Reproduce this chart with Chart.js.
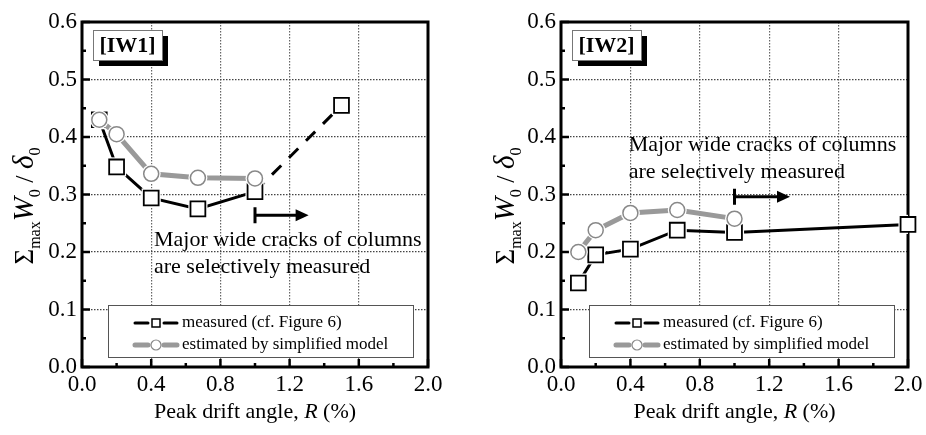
<!DOCTYPE html>
<html>
<head>
<meta charset="utf-8">
<script src="https://cdn.jsdelivr.net/npm/chart.js@4/dist/chart.umd.min.js"></script>
<style>
  body { margin: 0; background: #fff; }
  .wrap { position: absolute; top: 0; width: 463px; height: 435px; }
</style>
</head>
<body>
<div class="wrap" style="left:0"><canvas id="iw1" width="463" height="435"></canvas></div>
<div class="wrap" style="left:463px"><canvas id="iw2" width="463" height="435"></canvas></div>
<script>
// peak drift angle R (%) at each cycle
const R_IW1 = [0.1, 0.2, 0.4, 0.67, 1.0, 1.5];
const R_IW2 = [0.1, 0.2, 0.4, 0.67, 1.0, 2.0];
const R_EST = [0.1, 0.2, 0.4, 0.67, 1.0];

// sum max W0 / delta0
const measuredIW1 = [0.43, 0.348, 0.294, 0.275, 0.305, 0.455];
const estimatedIW1 = [0.43, 0.405, 0.336, 0.329, 0.328];
const measuredIW2 = [0.146, 0.195, 0.205, 0.238, 0.234, 0.248];
const estimatedIW2 = [0.200, 0.238, 0.268, 0.273, 0.258];

const legendLabels = ['measured (cf. Figure 6)', 'estimated by simplified model'];
const noteLines = ['Major wide cracks of columns', 'are selectively measured'];

const SERIF = '"Liberation Serif", "Times New Roman", serif';

function pts(xs, ys) {
    return xs.map(function (x, i) { return { x: x, y: ys[i] }; });
}

function makeChart(id, cfg) {
    const m = pts(cfg.rx, cfg.measured);
    const e = pts(R_EST, cfg.estimated);

    const deco = {
        id: 'deco',
        beforeDatasetsDraw: function (chart) {
            const ctx = chart.ctx, a = chart.chartArea;
            const xs = chart.scales.x, ys = chart.scales.y;
            ctx.save();
            ctx.strokeStyle = '#000';
            // inward ticks
            ctx.lineWidth = 2.5;
            for (let v = 0; v <= 0.6001; v += 0.05) {
                const y = ys.getPixelForValue(v);
                const major = Math.abs(v * 10 - Math.round(v * 10)) < 0.01;
                ctx.beginPath(); ctx.moveTo(a.left, y); ctx.lineTo(a.left + (major ? 8 : 4), y); ctx.stroke();
            }
            for (let v = 0; v <= 2.0001; v += 0.2) {
                const x = xs.getPixelForValue(v);
                const major = Math.abs(v / 0.4 - Math.round(v / 0.4)) < 0.01;
                ctx.beginPath(); ctx.moveTo(x, a.bottom); ctx.lineTo(x, a.bottom - (major ? 8 : 4)); ctx.stroke();
            }
            // frame
            ctx.lineWidth = 3;
            ctx.strokeRect(a.left, a.top, a.right - a.left, a.bottom - a.top);
            ctx.restore();
        },
        afterDatasetsDraw: function (chart) {
            const ctx = chart.ctx, a = chart.chartArea;
            const xs = chart.scales.x, ys = chart.scales.y;
            ctx.save();

            // specimen label with shadow
            const bx = a.left + 11, by = a.top + 8, bw = 69, bh = 30;
            ctx.fillStyle = '#000';
            ctx.fillRect(bx + 6, by + 6, bw, bh);
            ctx.fillStyle = '#fff';
            ctx.fillRect(bx, by, bw, bh);
            ctx.strokeStyle = '#777'; ctx.lineWidth = 1;
            ctx.strokeRect(bx + 0.5, by + 0.5, bw, bh);
            ctx.fillStyle = '#000';
            ctx.font = 'bold 22px ' + SERIF;
            ctx.textAlign = 'center'; ctx.textBaseline = 'middle';
            ctx.fillText(cfg.name, bx + bw / 2, by + bh / 2 + 1);

            // note text
            ctx.font = '22px ' + SERIF;
            ctx.textAlign = 'left';
            ctx.fillText(noteLines[0], xs.getPixelForValue(cfg.noteX), ys.getPixelForValue(cfg.noteY[0]));
            ctx.fillText(noteLines[1], xs.getPixelForValue(cfg.noteX), ys.getPixelForValue(cfg.noteY[1]));

            // arrow
            const x1 = xs.getPixelForValue(cfg.arrow[0]), x2 = xs.getPixelForValue(cfg.arrow[1]);
            const ay = ys.getPixelForValue(cfg.arrow[2]);
            ctx.strokeStyle = '#000'; ctx.lineWidth = 3;
            ctx.beginPath();
            ctx.moveTo(x1, ay - 8); ctx.lineTo(x1, ay + 8);
            ctx.moveTo(x1, ay); ctx.lineTo(x2 - 10, ay);
            ctx.stroke();
            ctx.beginPath();
            ctx.moveTo(x2, ay); ctx.lineTo(x2 - 13, ay - 6); ctx.lineTo(x2 - 13, ay + 6); ctx.closePath();
            ctx.fill();

            // legend
            const lx = a.left + cfg.legendDx, ly = 305, lw = 305, lh = 52;
            ctx.fillStyle = '#fff';
            ctx.fillRect(lx, ly, lw, lh);
            ctx.strokeStyle = '#555'; ctx.lineWidth = 1;
            ctx.strokeRect(lx + 0.5, ly + 0.5, lw, lh);
            const rows = [
                { y: ly + 18, color: '#000', w: 3, shape: 'rect' },
                { y: ly + 40, color: '#999', w: 5, shape: 'circle' }
            ];
            rows.forEach(function (r, i) {
                const sx = lx + 27, ex = lx + 69, cx = lx + 48;
                ctx.strokeStyle = r.color; ctx.lineWidth = r.w; ctx.lineCap = 'round';
                ctx.beginPath();
                ctx.moveTo(sx, r.y); ctx.lineTo(cx - 8, r.y);
                ctx.moveTo(cx + 8, r.y); ctx.lineTo(ex, r.y);
                ctx.stroke();
                ctx.lineCap = 'butt';
                ctx.fillStyle = '#fff';
                if (r.shape === 'rect') {
                    ctx.strokeStyle = '#000'; ctx.lineWidth = 1.5;
                    ctx.fillRect(cx - 4, r.y - 4, 8, 8);
                    ctx.strokeRect(cx - 4, r.y - 4, 8, 8);
                } else {
                    ctx.strokeStyle = '#888'; ctx.lineWidth = 1.2;
                    ctx.beginPath(); ctx.arc(cx, r.y, 5, 0, Math.PI * 2); ctx.fill(); ctx.stroke();
                }
                ctx.fillStyle = '#000';
                ctx.font = '17px ' + SERIF;
                ctx.textAlign = 'left'; ctx.textBaseline = 'middle';
                ctx.fillText(legendLabels[i], lx + 74, r.y);
            });

            // x title
            ctx.font = '22px ' + SERIF;
            ctx.textBaseline = 'middle';
            const p1 = 'Peak drift angle, ', p3 = ' (%)';
            ctx.font = 'italic 22px ' + SERIF;
            const w2 = ctx.measureText('R').width;
            ctx.font = '22px ' + SERIF;
            const w1 = ctx.measureText(p1).width, w3 = ctx.measureText(p3).width;
            let tx = (a.left + a.right) / 2 - (w1 + w2 + w3) / 2;
            const ty = 412;
            ctx.textAlign = 'left';
            ctx.fillText(p1, tx, ty); tx += w1;
            ctx.font = 'italic 22px ' + SERIF;
            ctx.fillText('R', tx, ty); tx += w2;
            ctx.font = '22px ' + SERIF;
            ctx.fillText(p3, tx, ty);

            // y title, rotated, with subscripts
            const parts = [
                { t: '\u03A3', f: '27px ' + SERIF, dy: 0 },
                { t: 'max', f: '16px ' + SERIF, dy: 7 },
                { t: 'W', f: 'italic 29px ' + SERIF, dy: 0 },
                { t: '0', f: '16px ' + SERIF, dy: 7 },
                { t: ' / ', f: '26px ' + SERIF, dy: 0 },
                { t: '\u03B4', f: 'italic 29px ' + SERIF, dy: 0 },
                { t: '0', f: '16px ' + SERIF, dy: 7 }
            ];
            let total = 0;
            parts.forEach(function (p) { ctx.font = p.f; p.w = ctx.measureText(p.t).width; total += p.w; });
            ctx.translate(cfg.yTitleX, 206);
            ctx.rotate(-Math.PI / 2);
            ctx.textBaseline = 'alphabetic';
            let px = -total / 2;
            parts.forEach(function (p) {
                ctx.font = p.f;
                ctx.fillText(p.t, px, 9 + p.dy);
                px += p.w;
            });
            ctx.restore();
        }
    };

    return new Chart(document.getElementById(id), {
        type: 'scatter',
        data: {
            datasets: [
                {
                    data: m, showLine: true, borderColor: '#000', borderWidth: 3, pointRadius: 0, order: 6,
                    segment: {
                        borderDash: function (c) { return cfg.dashFrom !== null && c.p0DataIndex >= cfg.dashFrom ? [13, 11] : undefined; }
                    }
                },
                { data: m, pointStyle: 'rect', pointRadius: 13.5, backgroundColor: '#fff', borderWidth: 0, order: 5 },
                { data: m, pointStyle: 'rect', pointRadius: 10.5, backgroundColor: '#fff', borderColor: '#000', borderWidth: 1.8, order: 4, clip: false },
                { data: e, showLine: true, borderColor: '#999', borderWidth: 5, pointRadius: 0, order: 3 },
                { data: e, pointStyle: 'circle', pointRadius: 9.5, backgroundColor: '#fff', borderWidth: 0, order: 2 },
                { data: e, pointStyle: 'circle', pointRadius: 7.5, backgroundColor: '#fff', borderColor: '#888', borderWidth: 1.5, order: 1, clip: false }
            ]
        },
        options: {
            responsive: false,
            animation: false,
            devicePixelRatio: 1,
            events: [],
            layout: { padding: { left: 0, right: cfg.padRight, top: 22, bottom: 0 } },
            plugins: { legend: { display: false }, tooltip: { enabled: false } },
            scales: {
                x: {
                    type: 'linear', min: 0, max: 2,
                    ticks: {
                        stepSize: 0.4, color: '#000', padding: 4,
                        font: { family: SERIF, size: 23 },
                        callback: function (v) { return v.toFixed(1); }
                    },
                    grid: {
                        drawTicks: false, lineWidth: 1.2,
                        color: function (c) { return (c.tick && (c.tick.value === 0 || c.tick.value === 2)) ? 'rgba(0,0,0,0)' : '#666'; }
                    },
                    border: { display: false, dash: [1.5, 1.5] },
                    afterFit: function (s) { s.height = 68; s.paddingLeft = 0; s.paddingRight = 0; }
                },
                y: {
                    min: 0, max: 0.6,
                    ticks: {
                        stepSize: 0.1, color: '#000', padding: 5,
                        font: { family: SERIF, size: 23 },
                        callback: function (v) { return v.toFixed(1); }
                    },
                    grid: {
                        drawTicks: false, lineWidth: 1.2,
                        color: function (c) { return (c.tick && (Math.abs(c.tick.value) < 1e-6 || Math.abs(c.tick.value - 0.6) < 1e-6)) ? 'rgba(0,0,0,0)' : '#444'; }
                    },
                    border: { display: false, dash: [1.5, 1.5] },
                    afterFit: function (s) { s.width = cfg.yWidth; s.paddingTop = 0; s.paddingBottom = 0; }
                }
            }
        },
        plugins: [deco]
    });
}

makeChart('iw1', {
    name: '[IW1]', rx: R_IW1, measured: measuredIW1, estimated: estimatedIW1,
    dashFrom: 4, yWidth: 82, padRight: 35, legendDx: 26, yTitleX: 24,
    noteX: 0.416, noteY: [0.22, 0.174], arrow: [1.0, 1.31, 0.264]
});
makeChart('iw2', {
    name: '[IW2]', rx: R_IW2, measured: measuredIW2, estimated: estimatedIW2,
    dashFrom: null, yWidth: 98, padRight: 18, legendDx: 28, yTitleX: 42,
    noteX: 0.39, noteY: [0.386, 0.339], arrow: [1.0, 1.32, 0.296]
});
</script>
</body>
</html>
